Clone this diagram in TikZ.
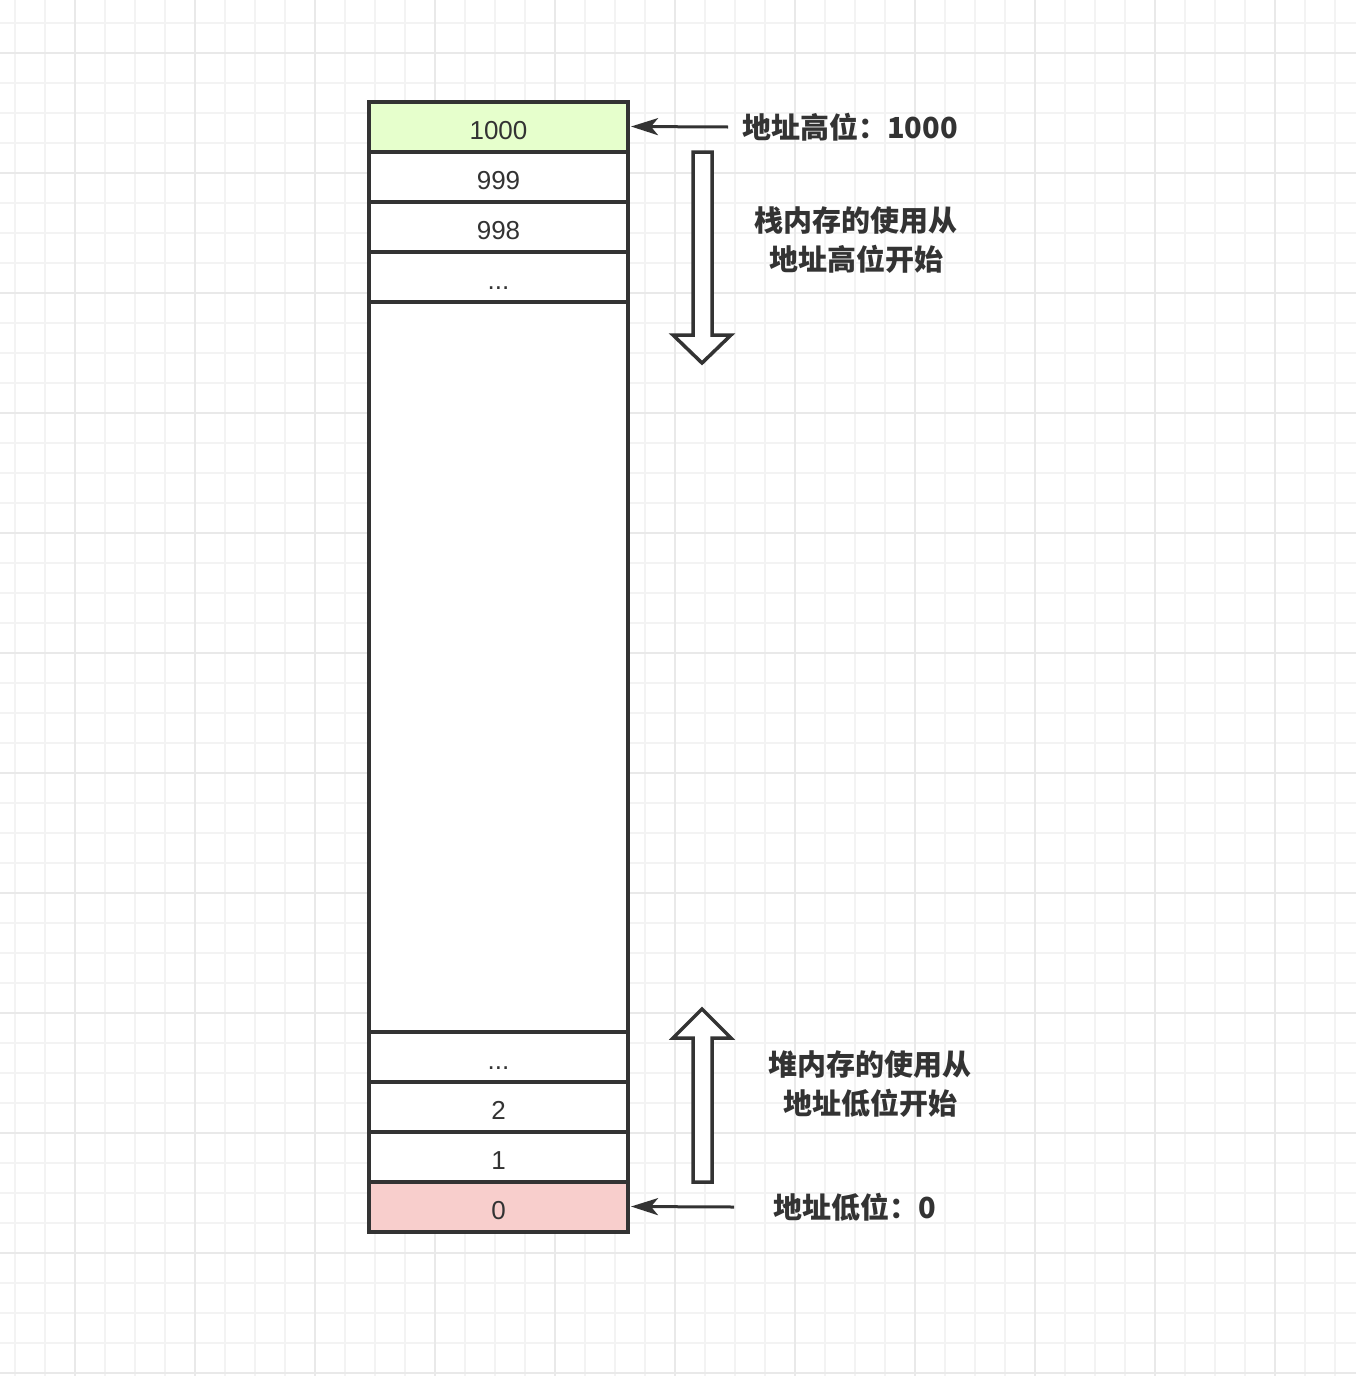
\documentclass[tikz,border=0pt]{standalone}
\usepackage{fontspec}
\setmainfont{Noto Sans CJK SC}
\newfontfamily\cellfont{Liberation Sans}
\usetikzlibrary{arrows.meta,positioning}
\definecolor{LineGray}{HTML}{333333}
\definecolor{HighGreen}{HTML}{E6FFCC}
\definecolor{LowRed}{HTML}{F8CECC}
\definecolor{GridMinor}{HTML}{F3F3F3}
\definecolor{GridMajor}{HTML}{E9E9E9}

\begin{document}
\begin{tikzpicture}[
  x=1pt, y=-1pt,
  cell/.style={draw=LineGray, line width=4pt, fill=white, minimum width=259pt, minimum height=50pt,
    inner sep=0pt, outer sep=0pt, text=LineGray, text height=25pt, text depth=0pt,
    font=\cellfont\fontsize{26}{30}\selectfont},
  note/.style={text=LineGray, align=center, inner sep=0pt, font=\fontsize{29}{39}\selectfont\bfseries},
  ptr/.style={-{Stealth[length=27pt,width=17pt,inset=7pt]}, draw=LineGray, line width=3pt},
  hollow/.style={draw=LineGray, fill=white, line width=3.5pt, line join=miter},
  minorline/.style={draw=GridMinor, line width=2pt},
  majorline/.style={draw=GridMajor, line width=2pt}
]
  \useasboundingbox[fill=white] (0,0) rectangle (1356,1376);

  % background grid
  \foreach \gx in {15,45,...,1355} \draw[minorline] (\gx,0) -- (\gx,1376);
  \foreach \gy in {22.7,52.7,...,1372.7} \draw[minorline] (0,\gy) -- (1356,\gy);
  \foreach \gx in {75,195,...,1355} \draw[majorline] (\gx,0) -- (\gx,1376);
  \foreach \gy in {52.7,172.7,...,1372.7} \draw[majorline] (0,\gy) -- (1356,\gy);

  % memory cells
  \node[cell, fill=HighGreen] (c1000) at (498.5,126.5) {1000};
  \node[cell, below=0pt of c1000] (c999) {999};
  \node[cell, below=0pt of c999] (c998) {998};
  \node[cell, below=0pt of c998] (chidots) {...};
  \node[cell, below=0pt of chidots, minimum height=730pt] (cfree) {};
  \node[cell, below=0pt of cfree] (clodots) {...};
  \node[cell, below=0pt of clodots] (c2) {2};
  \node[cell, below=0pt of c2] (c1) {1};
  \node[cell, below=0pt of c1, fill=LowRed] (c0) {0};

  % labels
  \node[note, anchor=west] (hilab) at (742,127) {地址高位：1000};
  \node[note] (stacknote) at (856,240) {栈内存的使用从\\地址高位开始};
  \node[note] (heapnote) at (870,1084) {堆内存的使用从\\地址低位开始};
  \node[note, anchor=west] (lolab) at (773,1207) {地址低位：0};

  \draw[ptr, shorten >=3pt] ([xshift=-14pt]hilab.west) -- (c1000.east);
  \draw[ptr, shorten >=3pt] ([xshift=-39pt]lolab.west) -- (c0.east);

  % growth directions
  \draw[hollow] (693,152) -- (712,152) -- (712,335) -- (731,335) -- (702,363)
    -- (673,335) -- (693,335) -- cycle;
  \draw[hollow] (693,1182) -- (712,1182) -- (712,1038) -- (731,1038) -- (702,1009)
    -- (673,1038) -- (693,1038) -- cycle;
\end{tikzpicture}
\end{document}
